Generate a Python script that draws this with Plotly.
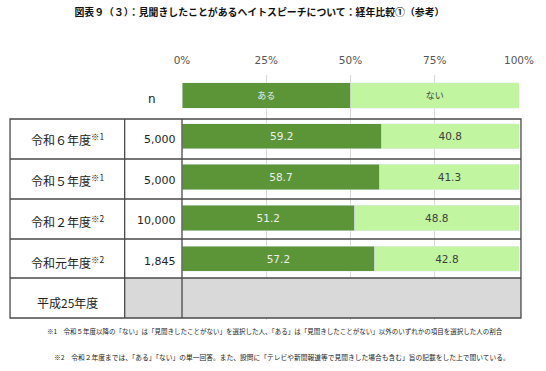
import plotly.graph_objects as go

# ---- data ----
years = ["令和６年度", "令和５年度", "令和２年度", "令和元年度", "平成25年度"]
year_notes = ["※1", "※1", "※2", "※2", ""]
n_values = ["5,000", "5,000", "10,000", "1,845", ""]
bar_years = ["令和６年度", "令和５年度", "令和２年度", "令和元年度"]
aru = [59.2, 58.7, 51.2, 57.2]      # ある
nai = [40.8, 41.3, 48.8, 42.8]      # ない
series_names = ["ある", "ない"]
tick_vals = [0, 25, 50, 75, 100]
tick_text = ["0%", "25%", "50%", "75%", "100%"]

title = "図表９（３）：見聞きしたことがあるヘイトスピーチについて：経年比較①（参考）"
notes = [
    "※1　令和５年度以降の「ない」は「見聞きしたことがない」を選択した人、「ある」は「見聞きしたことがない」以外のいずれかの項目を選択した人の割合",
    "※2　令和２年度までは、「ある」「ない」の単一回答。また、設問に「テレビや新聞報道等で見聞きした場合も含む」旨の記載をした上で聞いている。",
]

HDR = " "
cats = [HDR] + years

DARK = "#5b9538"
LIGHT = "#c1f5a0"
JP = "Noto Sans CJK JP"
NUM = "DejaVu Sans"

W, H = 546, 371
ML, MR, MT, MB = 182, 23, 75, 51
PW = W - ML - MR
PH = H - MT - MB


def px(x):
    return (x - ML) / PW


def py(y):
    return (H - MB - y) / PH


fig = go.Figure()

# header legend bar
fig.add_trace(go.Bar(y=[HDR], x=[50], orientation="h", marker_color=DARK,
                     text=[series_names[0]], textposition="inside",
                     insidetextanchor="middle",
                     textfont=dict(color="#eeeeee", size=9, family=JP),
                     hoverinfo="skip", width=0.62))
fig.add_trace(go.Bar(y=[HDR], x=[50], orientation="h", marker_color=LIGHT,
                     text=[series_names[1]], textposition="inside",
                     insidetextanchor="middle",
                     textfont=dict(color="#444444", size=9, family=JP),
                     hoverinfo="skip", width=0.62))

fig.add_trace(go.Bar(name=series_names[0], y=bar_years, x=aru, orientation="h",
                     marker_color=DARK, texttemplate="%{x:.1f}",
                     textposition="inside", insidetextanchor="middle",
                     textfont=dict(color="#eeeeee", size=10.5, family=NUM),
                     width=0.62))
fig.add_trace(go.Bar(name=series_names[1], y=bar_years, x=nai, orientation="h",
                     marker_color=LIGHT, texttemplate="%{x:.1f}",
                     textposition="inside", insidetextanchor="middle",
                     textfont=dict(color="#404040", size=10.5, family=NUM),
                     width=0.62))

shapes = []
LC = "#4a4a4a"
# gray row for 平成25年度
shapes.append(dict(type="rect", xref="paper", yref="paper",
                   x0=px(124), x1=px(525), y0=py(318), y1=py(278),
                   fillcolor="#d9d9d9", line=dict(width=0), layer="above"))
# outer border
shapes.append(dict(type="rect", xref="paper", yref="paper",
                   x0=px(8), x1=px(525), y0=py(318), y1=py(119),
                   line=dict(color=LC, width=1.3), layer="above"))
for yy in [159, 199, 239, 278]:
    shapes.append(dict(type="line", xref="paper", yref="paper",
                       x0=px(8), x1=px(525), y0=py(yy), y1=py(yy),
                       line=dict(color=LC, width=1.3), layer="above"))
for xx in [124, 182]:
    shapes.append(dict(type="line", xref="paper", yref="paper",
                       x0=px(xx), x1=px(xx), y0=py(318), y1=py(119),
                       line=dict(color=LC, width=1.3), layer="above"))

ann = []
for yr, note, n in zip(years, year_notes, n_values):
    label = yr + (f"<sup>{note}</sup>" if note else "")
    ann.append(dict(xref="paper", yref="y", x=px(66), y=yr, yshift=-3,
                    text=label, showarrow=False, xanchor="center",
                    font=dict(family=JP, size=12, color="#222222")))
    if n:
        ann.append(dict(xref="paper", yref="y", x=px(178), y=yr, yshift=-3,
                        text=n, showarrow=False, xanchor="right",
                        font=dict(family=NUM, size=11, color="#222222")))
ann.append(dict(xref="paper", yref="y", x=px(152), y=HDR, yshift=-4,
                text="n", showarrow=False, xanchor="center",
                font=dict(family=NUM, size=12, color="#222222")))
ann.append(dict(xref="paper", yref="paper", x=px(43), y=py(331),
                text=notes[0], showarrow=False, xanchor="left", yanchor="middle",
                font=dict(family=JP, size=6.5, color="#222222")))
ann.append(dict(xref="paper", yref="paper", x=px(50), y=py(357),
                text=notes[1], showarrow=False, xanchor="left", yanchor="middle",
                font=dict(family=JP, size=6.75, color="#222222")))

fig.update_layout(
    width=W, height=H,
    margin=dict(l=ML, r=MR, t=MT, b=MB),
    barmode="stack", bargap=0.38, showlegend=False,
    plot_bgcolor="white", paper_bgcolor="white",
    title=dict(text=f"<b>{title}</b>", x=259.5 / W, xref="container",
               xanchor="center", y=1 - 13 / H, yref="container",
               yanchor="middle",
               font=dict(family=JP, size=9.9, color="#111111")),
    xaxis=dict(range=[0, 100], side="top", tickvals=tick_vals, ticktext=tick_text,
               showgrid=True, gridcolor="#d9d9d9", gridwidth=1, zeroline=False,
               showline=False, ticks="", ticklabelstandoff=8,
               tickfont=dict(family=NUM, size=10.5, color="#555555"), fixedrange=True),
    yaxis=dict(type="category", categoryorder="array", categoryarray=cats,
               range=[len(cats) - 0.5, -0.5], showticklabels=False,
               showgrid=False, zeroline=False, showline=False),
    shapes=shapes, annotations=ann,
)

fig.write_html("out.html", config={"displayModeBar": False},
               post_script="document.body.style.margin='0';")
